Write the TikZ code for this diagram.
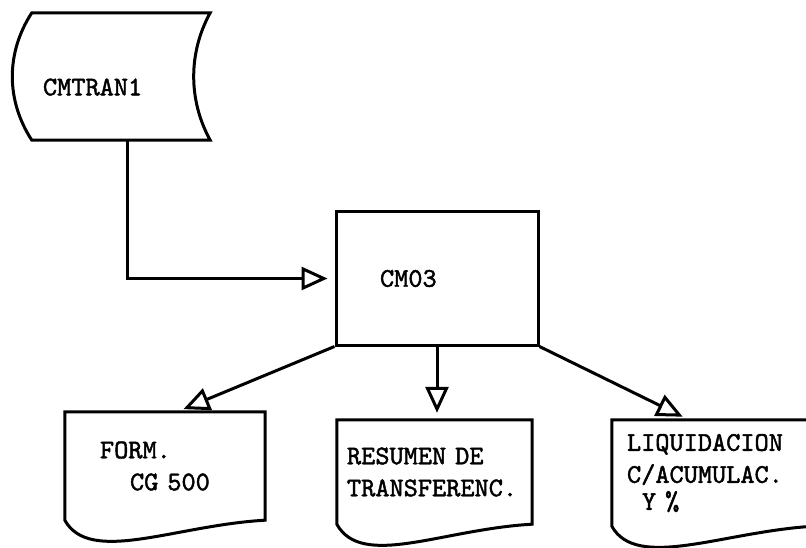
\documentclass[tikz,border=0pt]{standalone}
\usepackage{fontspec}
\newfontfamily\typew[FakeBold=1.6]{lmmono10-regular.otf}
\usetikzlibrary{positioning,arrows.meta}

\begin{document}
\begin{tikzpicture}[x=1pt,y=-1pt,
  line/.style={line width=3pt},
  lbl/.style={font=\typew\fontsize{27}{32}\selectfont},
  store/.style={lbl,rectangle,minimum width=178pt,minimum height=127pt,inner sep=0pt},
  proc/.style={lbl,line,draw,rectangle,minimum width=202pt,minimum height=133pt,inner sep=0pt},
  doc/.style={lbl,rectangle,inner sep=0pt,align=left},
  flow/.style={line,-{Triangle[open,length=26pt,width=23pt]},shorten >=7pt}]

\useasboundingbox (0,0) rectangle (806,548);
\clip (0,0) rectangle (806,548);

% input file and program
\node (cmtran) [store,text width=156pt,align=left,text height=38pt] at (121,76.5) {CMTRAN1};
\node (cm03) [proc,text width=114pt,align=left] at (437,278.5) {CM03};

% reports
\node (doc1) [doc,minimum width=200pt,minimum height=108pt,text width=130pt] at (165,466)
  {FORM.\\\hspace*{30pt}CG 500};
\node (doc2) [doc,minimum width=195pt,minimum height=104pt,text width=175pt] at (434.5,472)
  {RESUMEN DE\\TRANSFERENC.};
\node (doc3) [doc,minimum width=202pt,minimum height=106pt,text width=172pt] at (713,473)
  {LIQUIDACION\\C/ACUMULAC.\\[-5pt]\hspace*{15pt}Y \%};

% outlines
\draw[line] (cmtran.north west) -- (cmtran.north east)
  .. controls +(-22,40) and +(-22,-40) .. (cmtran.south east)
  -- (cmtran.south west)
  .. controls +(-26,-40) and +(-26,40) .. (cmtran.north west) -- cycle;
\foreach \d in {doc1,doc2,doc3}
  \draw[line] (\d.north west) -- (\d.north east) -- (\d.south east)
    .. controls +(-90,5) and +(25,45) .. (\d.south west) -- cycle;

% flow lines
\draw[flow] ([xshift=6pt]cmtran.south) |- (cm03.west);
\draw[flow] (cm03.south west) -- ([xshift=12pt]doc1.north);
\draw[flow] (cm03.south) -- (cm03.south |- doc2.north);
\draw[flow] (cm03.south east) -- ([xshift=-24pt]doc3.north);
\end{tikzpicture}
\end{document}
